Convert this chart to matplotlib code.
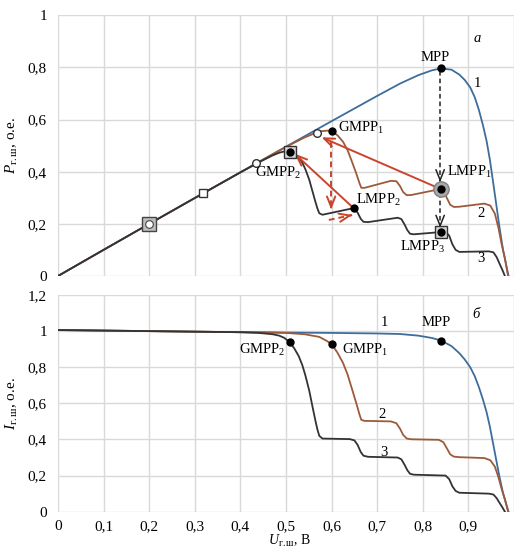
import matplotlib
matplotlib.use('Agg')
import matplotlib.pyplot as plt
from matplotlib.ticker import FuncFormatter
import numpy as np

plt.rcParams['font.family'] = ['Liberation Serif', 'DejaVu Serif']
plt.rcParams['mathtext.fontset'] = 'custom'
plt.rcParams['mathtext.rm'] = 'Liberation Serif'
plt.rcParams['mathtext.it'] = 'Liberation Serif:italic'
plt.rcParams['mathtext.bf'] = 'Liberation Serif:bold'

# ---------------- data ----------------
# curve 1 (uniform irradiance)
U1 = [0, 0.1, 0.2, 0.3, 0.4, 0.5, 0.6, 0.7, 0.75, 0.79, 0.82, 0.84, 0.863, 0.88,
      0.892, 0.904, 0.914, 0.923, 0.932, 0.94, 0.947, 0.954, 0.961, 0.968, 0.976,
      0.982, 0.988]
I1 = [1.006, 1.003, 1.0, 0.997, 0.994, 0.992, 0.99, 0.987, 0.984, 0.975, 0.962,
      0.948, 0.917, 0.878, 0.843, 0.80, 0.75, 0.69, 0.62, 0.55, 0.472, 0.38, 0.287,
      0.195, 0.102, 0.05, 0.0]
# curve 2 (partial shading)
U2 = [0, 0.1, 0.2, 0.3, 0.4, 0.45, 0.5, 0.54, 0.573, 0.59, 0.6, 0.613, 0.625, 0.635,
      0.643, 0.654, 0.661, 0.665, 0.672, 0.73, 0.742, 0.75, 0.757, 0.765, 0.775,
      0.835, 0.845, 0.853, 0.86, 0.868, 0.88, 0.935, 0.948, 0.958, 0.966, 0.973,
      0.98, 0.987]
I2 = [1.006, 1.003, 1.0, 0.997, 0.994, 0.993, 0.99, 0.983, 0.968, 0.945, 0.928, 0.88,
      0.824, 0.76, 0.694, 0.602, 0.54, 0.509, 0.503, 0.50, 0.49, 0.46, 0.425, 0.405,
      0.401, 0.398, 0.385, 0.35, 0.318, 0.305, 0.302, 0.297, 0.285, 0.25, 0.19,
      0.125, 0.07, 0.0]
# curve 3 (stronger shading)
U3 = [0, 0.1, 0.2, 0.3, 0.4, 0.44, 0.47, 0.485, 0.496, 0.508, 0.518, 0.528, 0.536,
      0.543, 0.551, 0.558, 0.564, 0.569, 0.573, 0.58, 0.64, 0.65, 0.657, 0.664, 0.67,
      0.68, 0.745, 0.753, 0.76, 0.766, 0.772, 0.78, 0.85, 0.858, 0.865, 0.872, 0.88,
      0.945, 0.955, 0.962, 0.968, 0.975, 0.98]
I3 = [1.006, 1.003, 1.0, 0.997, 0.994, 0.99, 0.983, 0.975, 0.963, 0.939, 0.905, 0.861,
      0.81, 0.75, 0.67, 0.583, 0.51, 0.454, 0.42, 0.405, 0.402, 0.395, 0.37, 0.33,
      0.31, 0.304, 0.30, 0.29, 0.26, 0.23, 0.21, 0.205, 0.20, 0.18, 0.14, 0.115,
      0.105, 0.10, 0.095, 0.075, 0.05, 0.022, 0.0]

# marked operating points
mpp_u, mpp_i = 0.84, 0.948
gmpp1_u, gmpp1_i = 0.6, 0.928
gmpp2_u, gmpp2_i = 0.508, 0.939
lmpp1_u, lmpp1_i = 0.84, 0.398
lmpp2_u, lmpp2_i = 0.65, 0.401
lmpp3_u, lmpp3_i = 0.84, 0.20
# search-trajectory points on the common segment
sq_u = [0.2, 0.319]
sq_p = [0.2, 0.318]
circ_u = [0.435, 0.568]
circ_p = [0.433, 0.548]

# arrows (start -> end) in the P-U plane
black_arrows = [((0.838, 0.785), (0.838, 0.36)), ((0.838, 0.318), (0.838, 0.185))]
red_solid = [((0.84, 0.333), (0.578, 0.532)), ((0.651, 0.256), (0.519, 0.469))]
red_dashed = [((0.599, 0.515), (0.599, 0.255)), ((0.594, 0.215), (0.645, 0.234))]

xticks = [0, 0.1, 0.2, 0.3, 0.4, 0.5, 0.6, 0.7, 0.8, 0.9, 1.0]
yticks_top = [0, 0.2, 0.4, 0.6, 0.8, 1.0]
yticks_bot = [0, 0.2, 0.4, 0.6, 0.8, 1.0, 1.2]

C1 = '#3E6D9C'
C2 = '#9D5A3A'
C3 = '#333333'
CR = '#C9452C'
GRID = '#D9D9D9'

U1, I1, U2, I2, U3, I3 = map(np.array, (U1, I1, U2, I2, U3, I3))
P1, P2, P3 = U1 * I1, U2 * I2, U3 * I3

fmt = FuncFormatter(lambda v, p: ('%g' % round(v, 1)).replace('.', ','))

fig = plt.figure(figsize=(5.14, 5.5), dpi=100)
ax1 = fig.add_axes([58 / 514, 274 / 550, 456 / 514, 260.7 / 550])
ax2 = fig.add_axes([58 / 514, 38.3 / 550, 456 / 514, 216.7 / 550])

for ax, yt in ((ax1, yticks_top), (ax2, yticks_bot)):
    ax.set_xlim(0, 1)
    ax.set_ylim(yt[0], yt[-1])
    ax.set_xticks(xticks)
    ax.set_yticks(yt)
    ax.grid(True, color=GRID, lw=1.0)
    ax.set_axisbelow(True)
    for s in ax.spines.values():
        s.set_visible(False)
    ax.yaxis.set_major_formatter(fmt)
    ax.tick_params(length=0, labelsize=11, pad=8)
    ax.tick_params(axis='x', pad=6)

ax1.tick_params(labelbottom=False)
ax2.set_xticklabels([fmt(v, None) if v < 0.95 else '' for v in xticks])

# ---------------- top: P-U ----------------
ax1.plot(U1, P1, color=C1, lw=1.3, zorder=3)
ax1.plot(U2, P2, color=C2, lw=1.3, zorder=4)
ax1.plot(U3, P3, color=C3, lw=1.3, zorder=5)

head = '->,head_length=0.75,head_width=0.3'
for (x0, y0), (x1, y1) in black_arrows:
    ax1.plot([x0, x1], [y0, y1], color='#222222', lw=1.1, ls=(0, (3, 2)), zorder=6)
    ax1.annotate('', xy=(x1, y1), xytext=(x1, y1 + 0.01),
                 arrowprops=dict(arrowstyle=head, color='#222222', lw=1.1,
                                 shrinkA=0, shrinkB=0), zorder=6)
for (x0, y0), (x1, y1) in red_solid:
    ax1.annotate('', xy=(x1, y1), xytext=(x0, y0),
                 arrowprops=dict(arrowstyle=head, color=CR, lw=1.4,
                                 shrinkA=0, shrinkB=0), zorder=6)
for (x0, y0), (x1, y1) in red_dashed:
    ax1.plot([x0, x1], [y0, y1], color=CR, lw=1.4, ls=(0, (3, 2)), zorder=6)
    dx, dy = (x1 - x0) * 0.05, (y1 - y0) * 0.05
    ax1.annotate('', xy=(x1, y1), xytext=(x1 - dx, y1 - dy),
                 arrowprops=dict(arrowstyle=head, color=CR, lw=1.4,
                                 shrinkA=0, shrinkB=0), zorder=6)

# markers top
ax1.plot([sq_u[0]], [sq_p[0]], 's', ms=10, mfc='#BDBDBD', mec='#444444', mew=1, zorder=7)
ax1.plot([sq_u[0]], [sq_p[0]], 'o', ms=5.5, mfc='white', mec='#444444', mew=0.8, zorder=8)
ax1.plot(sq_u[1:], sq_p[1:], 's', ms=5.5, mfc='white', mec='#333333', mew=1, zorder=7)
ax1.plot(circ_u, circ_p, 'o', ms=5.5, mfc='white', mec='#333333', mew=1, zorder=7)
ax1.plot([gmpp2_u], [gmpp2_u * gmpp2_i], 's', ms=9, mfc='#D5D5D5', mec='#333333', mew=1, zorder=7)
ax1.plot([lmpp1_u], [lmpp1_u * lmpp1_i], 'o', ms=11, mfc='#A8A8A8', mec='#808080', mew=1, zorder=7)
ax1.plot([lmpp3_u], [lmpp3_u * lmpp3_i], 's', ms=9, mfc='#D5D5D5', mec='#333333', mew=1, zorder=7)
dots_u = [mpp_u, gmpp1_u, gmpp2_u, lmpp1_u, lmpp2_u, lmpp3_u]
dots_i = [mpp_i, gmpp1_i, gmpp2_i, lmpp1_i, lmpp2_i, lmpp3_i]
ax1.plot(dots_u, [u * i for u, i in zip(dots_u, dots_i)], 'o', ms=5, color='black', zorder=9)

tk = dict(fontsize=10.5, zorder=10)
ax1.text(0.919, 0.912, 'а', style='italic', ha='center', va='center', **tk)
ax1.text(0.828, 0.839, 'MPP', ha='center', va='center', **tk)
ax1.text(0.919, 0.739, '1', ha='center', va='center', **tk)
ax1.text(0.613, 0.567, 'GMPP$_1$', ha='left', va='center', **tk)
ax1.text(0.483, 0.395, 'GMPP$_2$', ha='center', va='center', **tk)
ax1.text(0.852, 0.398, 'LMPP$_1$', ha='left', va='center', **tk)
ax1.text(0.653, 0.291, 'LMPP$_2$', ha='left', va='center', **tk)
ax1.text(0.799, 0.111, 'LMPP$_3$', ha='center', va='center', **tk)
ax1.text(0.928, 0.241, '2', ha='center', va='center', **tk)
ax1.text(0.928, 0.069, '3', ha='center', va='center', **tk)

ax1.set_ylabel(r'$P_{\mathrm{г.ш}}$, о.е.', fontsize=11)
ax1.yaxis.set_label_coords(-0.083, 0.5)

# ---------------- bottom: I-U ----------------
ax2.plot(U1, I1, color=C1, lw=1.3, zorder=3)
ax2.plot(U2, I2, color=C2, lw=1.3, zorder=4)
ax2.plot(U3, I3, color=C3, lw=1.3, zorder=5)
ax2.plot([mpp_u, gmpp1_u, gmpp2_u], [mpp_i, gmpp1_i, gmpp2_i], 'o', ms=5,
         color='black', zorder=9)

ax2.text(0.716, 1.045, '1', ha='center', va='center', **tk)
ax2.text(0.830, 1.05, 'MPP', ha='center', va='center', **tk)
ax2.text(0.917, 1.09, 'б', style='italic', ha='center', va='center', **tk)
ax2.text(0.448, 0.896, 'GMPP$_2$', ha='center', va='center', **tk)
ax2.text(0.622, 0.894, 'GMPP$_1$', ha='left', va='center', **tk)
ax2.text(0.710, 0.54, '2', ha='center', va='center', **tk)
ax2.text(0.714, 0.327, '3', ha='center', va='center', **tk)

ax2.set_ylabel(r'$I_{\mathrm{г.ш}}$, о.е.', fontsize=11)
ax2.yaxis.set_label_coords(-0.083, 0.5)
ax2.set_xlabel(r'$U_{\mathrm{г.ш}}$, В', fontsize=10, va='bottom')
ax2.xaxis.set_label_coords(0.507, -(38.3 - 1) / 216.7)

fig.savefig('out.png', dpi=100)
